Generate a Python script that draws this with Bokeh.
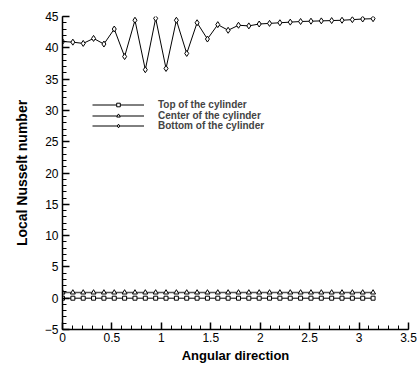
from bokeh.plotting import figure
from bokeh.models import Range1d, SingleIntervalTicker, Legend, LegendItem
from bokeh.embed import file_html
from bokeh.resources import INLINE
import numpy as np

n_points = 31
angle = list(np.linspace(0, np.pi, n_points))
top_nu = [0.0] * n_points
center_nu = [0.9] * n_points
bottom_nu = [41.0, 40.9, 40.7, 41.5, 40.6, 43.0, 38.6, 44.4, 36.5, 44.7,
             36.7, 44.4, 39.1, 44.0, 41.4, 43.7, 42.8, 43.6, 43.5, 43.8,
             43.9, 44.0, 44.1, 44.2, 44.25, 44.3, 44.35, 44.4, 44.5, 44.6, 44.65]
labels = ["Top of the cylinder", "Center of the cylinder", "Bottom of the cylinder"]

p = figure(frame_width=346, frame_height=313, min_border_left=62, min_border_top=16,
           min_border_right=10, min_border_bottom=36,
           x_range=Range1d(0, 3.5), y_range=Range1d(-5, 45),
           output_backend="svg", toolbar_location=None)
p.outline_line_color = None
p.grid.visible = False
p.background_fill_color = "white"

font = "Liberation Sans"
for ax in (p.xaxis[0], p.yaxis[0]):
    ax.axis_line_width = 1.5
    ax.axis_line_color = "black"
    ax.major_tick_in = 7
    ax.major_tick_out = 0
    ax.minor_tick_in = 4
    ax.minor_tick_out = 0
    ax.major_tick_line_width = 1.5
    ax.minor_tick_line_width = 1
    ax.major_label_text_font = font
    ax.major_label_text_font_size = "12px"
    ax.major_label_text_color = "black"
    ax.axis_label_text_font = font
    ax.axis_label_text_font_style = "bold"
    ax.axis_label_text_color = "black"

p.xaxis.ticker = SingleIntervalTicker(interval=0.5, num_minor_ticks=5)
p.yaxis.ticker = SingleIntervalTicker(interval=5, num_minor_ticks=5)
p.xaxis.axis_label = "Angular direction"
p.yaxis.axis_label = "Local Nusselt number"
p.xaxis.axis_label_text_font_size = "13px"
p.yaxis.axis_label_text_font_size = "14px"
p.xaxis.major_label_standoff = 3
p.yaxis.major_label_standoff = 4
p.xaxis.axis_label_standoff = 3
p.yaxis.axis_label_standoff = 12

l1 = p.line(angle, top_nu, line_color="black", line_width=1)
m1 = p.scatter(angle, top_nu, marker="square", size=4, fill_color="white", line_color="black")
l2 = p.line(angle, center_nu, line_color="#555555", line_width=1.5)
m2 = p.scatter(angle, center_nu, marker="triangle", size=5, fill_color="white", line_color="black")
l3 = p.line(angle, bottom_nu, line_color="black", line_width=1)
m3 = p.scatter(angle, bottom_nu, marker="diamond", size=6, fill_color="white", line_color="black")

entries = [([l1, m1], 219), ([l2, m2], 208.5), ([l3, m3], 198)]
for (rends, ypos), lab in zip(entries, labels):
    legend = Legend(items=[LegendItem(label=lab, renderers=rends)], location=(30, ypos))
    legend.padding = 0
    legend.margin = 0
    legend.spacing = 0
    legend.glyph_width = 52
    legend.glyph_height = 9
    legend.label_height = 9
    legend.label_standoff = 14
    legend.label_text_font = font
    legend.label_text_font_style = "bold"
    legend.label_text_font_size = "10px"
    legend.border_line_color = None
    legend.background_fill_alpha = 0
    p.add_layout(legend)

open("out.html", "w").write(file_html(p, INLINE))
